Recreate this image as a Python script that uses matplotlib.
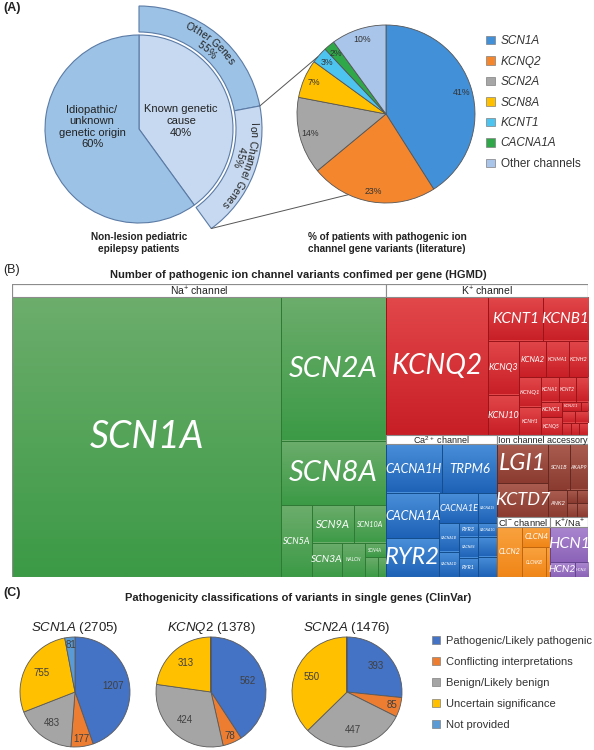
import numpy as np
import matplotlib
matplotlib.use('Agg')
import matplotlib.pyplot as plt
from matplotlib.patches import Rectangle, Patch, ConnectionPatch
from matplotlib.colors import to_rgb

# ---------------- data ----------------
cause_labels = ['Known genetic\ncause', 'Idiopathic/\nunknown\ngenetic origin']
cause_pct = [40, 60]
known_labels = ['Other Genes', 'Ion Channel Genes']
known_pct = [55, 45]

lit_genes = ['SCN1A', 'KCNQ2', 'SCN2A', 'SCN8A', 'KCNT1', 'CACNA1A', 'Other channels']
lit_pct = [41, 23, 14, 7, 3, 2, 10]

na_genes = ['SCN1A', 'SCN2A', 'SCN8A', 'SCN5A', 'SCN9A', 'SCN10A', 'SCN3A', 'NALCN',
            'SCN4A', 'SCN11A', 'SCN7A']
na_counts = [1970, 396, 176, 58, 41, 32, 27, 20, 8, 7, 4]
k_genes = ['KCNQ2', 'KCNT1', 'KCNB1', 'KCNQ3', 'KCNJ10', 'KCNA2', 'KCNMA1', 'KCNH2',
           'KCNQ1', 'KCNH1', 'KCNA1', 'KCNT2', 'KCNC3', 'KCNC1', 'KCNQ5', 'KCNJ11',
           'KCNK9', 'KCND2', 'KCNJ16', 'KCNA5', 'KCNK4', 'KCNS1']
k_counts = [385, 66, 54, 46, 34, 27, 23, 19, 18, 17, 12, 11, 8, 9, 10, 5, 2, 4, 4, 3, 3, 3]
ca_genes = ['CACNA1H', 'TRPM6', 'CACNA1A', 'RYR2', 'CACNA1E', 'CACNA1S', 'CACNA1B',
            'CACNA1D', 'RYR3', 'CACNA1G', 'CACNB4', 'RYR1', 'CACNA1C', 'CACNA2D1']
ca_counts = [73, 72, 64, 55, 31, 15, 15, 13, 7, 7, 11, 10, 10, 10]
acc_genes = ['LGI1', 'KCTD7', 'SCN1B', 'AKAP9', 'ANK2', 'CNTN2', 'FGF12', 'CNTNAP2', 'SCN2B']
acc_counts = [56, 49, 28, 23, 14, 4, 4, 4, 4]
cl_genes = ['CLCN2', 'CLCN4', 'CLCNKB', 'CLCN1']
cl_counts = [38, 17, 21, 4]
hcn_genes = ['HCN1', 'HCN2', 'HCN4']
hcn_counts = [40, 11, 6]

clin_classes = ['Pathogenic/Likely pathogenic', 'Conflicting interpretations',
                'Benign/Likely benign', 'Uncertain significance', 'Not provided']
clin_genes = ['SCN1A', 'KCNQ2', 'SCN2A']
clin_totals = [2705, 1378, 1476]
scn1a_clin = [1207, 177, 483, 755, 81]
kcnq2_clin = [562, 78, 424, 313, 1]
scn2a_clin = [393, 85, 447, 550, 1]

# ---------------- style ----------------
W, H = 594, 750
plt.rcParams['font.family'] = ['Liberation Sans', 'DejaVu Sans']
plt.rcParams['mathtext.fontset'] = 'custom'
plt.rcParams['mathtext.rm'] = 'Liberation Sans'
plt.rcParams['mathtext.it'] = 'Liberation Sans:italic'
plt.rcParams['mathtext.bf'] = 'Liberation Sans:bold'
TXT = '#222222'
LBLFONT = ['Lato', 'Open Sans', 'DejaVu Sans']

fig = plt.figure(figsize=(W / 100, H / 100), dpi=100)
fig.patch.set_facecolor('white')


def px_axes(x0, y0, x1, y1, **kw):
    return fig.add_axes([x0 / W, 1 - y1 / H, (x1 - x0) / W, (y1 - y0) / H], **kw)


def pix_square_axes(cx, cy, half):
    ax = px_axes(cx - half, cy - half, cx + half, cy + half)
    ax.set_xlim(-half, half)
    ax.set_ylim(-half, half)
    ax.axis('off')
    return ax


renderer = fig.canvas.get_renderer()


def curved_text(ax, s, r, theta_c, fs, **kw):
    widths = []
    for ch in s:
        t = ax.text(0, 0, 'n' if ch == ' ' else ch, fontsize=fs, **kw)
        w = t.get_window_extent(renderer=renderer).width
        t.remove()
        widths.append(w * 0.55 if ch == ' ' else w)
    total = sum(widths)
    ang = np.radians(theta_c) - total / 2 / r
    for ch, w in zip(s, widths):
        a = ang + w / 2 / r
        ax.text(r * np.sin(a), r * np.cos(a), ch, rotation=-np.degrees(a),
                rotation_mode='anchor', ha='center', va='center', fontsize=fs, **kw)
        ang += w / r


# ================= Panel A =================
LCX, LCY, LR = 139, 129, 94
RING_IN, RING_OUT = 97, 123
axL = pix_square_axes(LCX, LCY, 130)
light, medium, edge = '#c6d9f0', '#9cc2e5', '#5b7ba6'
axL.pie(cause_pct, radius=LR, startangle=90, counterclock=False,
        colors=[light, medium], wedgeprops=dict(edgecolor=edge, linewidth=0.8))
ring_vals = [cause_pct[0] * p / 100 for p in known_pct] + [cause_pct[1]]
rw, _ = axL.pie(ring_vals, radius=RING_OUT, startangle=90, counterclock=False,
                colors=[medium, light, 'white'],
                wedgeprops=dict(width=RING_OUT - RING_IN, edgecolor=edge, linewidth=0.8))
rw[-1].set_visible(False)
axL.set_xlim(-130, 130)
axL.set_ylim(-130, 130)

axL.text(-47, 2, cause_labels[1] + '\n%d%%' % cause_pct[1], ha='center', va='center',
         fontsize=8, color=TXT, linespacing=1.2)
axL.text(42, 8, cause_labels[0] + '\n%d%%' % cause_pct[0], ha='center', va='center',
         fontsize=8, color=TXT, linespacing=1.2)

# ring labels (curved)
th_b = 360 * ring_vals[0] / sum(ring_vals)
th_e = 360 * (ring_vals[0] + ring_vals[1]) / sum(ring_vals)
curved_text(axL, known_labels[0], 114, th_b / 2, 7.5, color=TXT)
curved_text(axL, '%d%%' % known_pct[0], 104, th_b / 2 + 1, 7.5, color=TXT)
curved_text(axL, known_labels[1], 114, (th_b + th_e) / 2 - 2, 7.5, color=TXT)
curved_text(axL, '%d%%' % known_pct[1], 104, (th_b + th_e) / 2 - 6, 7.5, color=TXT)

# right pie
RCX, RCY, RR = 386, 114, 89
axR = pix_square_axes(RCX, RCY, 96)
lit_colors = ['#4290d8', '#f4862e', '#a6a6a6', '#ffc000', '#4dc3f0', '#2fa84a', '#a9c5ea']
wd, _ = axR.pie(lit_pct, radius=RR, startangle=90, counterclock=False, colors=lit_colors,
                wedgeprops=dict(edgecolor='#555555', linewidth=0.6))
axR.set_xlim(-96, 96)
axR.set_ylim(-96, 96)
for w, p in zip(wd, lit_pct):
    a = np.radians((w.theta1 + w.theta2) / 2)
    d = 0.88 * RR
    axR.text(d * np.cos(a), d * np.sin(a), '%d%%' % p, ha='center', va='center',
             fontsize=6.3, color='#333333')


def ring_pt(theta):
    return (RING_OUT * np.sin(np.radians(theta)), RING_OUT * np.cos(np.radians(theta)))


def rpie_pt(theta):
    return (RR * np.sin(np.radians(theta)), RR * np.cos(np.radians(theta)))


for ta, tb in [(th_b, 310), (th_e, 205)]:
    cp = ConnectionPatch(xyA=ring_pt(ta), coordsA=axL.transData, xyB=rpie_pt(tb),
                         coordsB=axR.transData, color='#555555', lw=0.7)
    fig.add_artist(cp)

legA = fig.legend([Patch(facecolor=c, edgecolor='#808080', lw=0.5) for c in lit_colors],
                  lit_genes, loc='upper left', bbox_to_anchor=(486 / W, 1 - 35 / H),
                  frameon=False, fontsize=8.5, handlelength=0.75, handleheight=0.75,
                  handletextpad=0.5, labelspacing=0.72, borderaxespad=0, borderpad=0)
for t in legA.get_texts()[:-1]:
    t.set_style('italic')
for t in legA.get_texts():
    t.set_color('#333333')

# ================= Panel B: treemap =================
TX0, TY0, TX1, TY1 = 12, 284, 588, 577
axT = px_axes(TX0, TY0, TX1, TY1)
TW, TH = TX1 - TX0, TY1 - TY0

na_tree = ('h', ['SCN1A', ('v', ['SCN2A', 'SCN8A', ('h', ['SCN5A', ('v', [
    ('h', ['SCN9A', 'SCN10A']),
    ('h', ['SCN3A', 'NALCN', ('v', ['SCN4A', ('h', ['SCN11A', 'SCN7A'])])])])])])])
k_tree = ('h', ['KCNQ2', ('v', [('h', ['KCNT1', 'KCNB1']), ('h', [
    ('v', ['KCNQ3', 'KCNJ10']),
    ('v', [('h', ['KCNA2', 'KCNMA1', 'KCNH2']), ('h', [
        ('v', ['KCNQ1', 'KCNH1']),
        ('v', [('h', ['KCNA1', 'KCNT2', 'KCNC3']), ('h', [
            ('v', ['KCNC1', 'KCNQ5']),
            ('v', [('h', ['KCNJ11', 'KCNK9']), ('h', ['KCND2', 'KCNJ16']),
                   ('h', ['KCNA5', 'KCNK4', 'KCNS1'])])])])])])])])])
ca_tree = ('v', [('h', ['CACNA1H', 'TRPM6']), ('h', [
    ('v', ['CACNA1A', 'RYR2']),
    ('v', [('h', ['CACNA1E', 'CACNA1S']), ('h', [
        ('v', ['CACNA1B', 'CACNA1D']),
        ('v', [('h', ['RYR3', 'CACNA1G']),
               ('h', [('v', ['CACNB4', 'RYR1']), ('v', ['CACNA1C', 'CACNA2D1'])])])])])])])
acc_tree = ('h', [('v', ['LGI1', 'KCTD7']), ('v', [('h', ['SCN1B', 'AKAP9']), ('h', [
    'ANK2', ('v', [('h', ['CNTN2', 'FGF12']), ('h', ['CNTNAP2', 'SCN2B'])])])])])
cl_tree = ('h', ['CLCN2', ('v', ['CLCN4', ('h', ['CLCNKB', 'CLCN1'])])])
hcn_tree = ('v', ['HCN1', ('h', ['HCN2', 'HCN4'])])
group_tree = ('h', ['Na', ('v', ['K', ('h', ['Ca', ('v', ['Acc', ('h', ['Cl', 'KNa'])])])])])

groups = {
    'Na': dict(title=r'Na$^{+}$ channel', genes=na_genes, counts=na_counts, tree=na_tree,
               hh=13, fs=7.5, top='#6cad6c', bot='#3c9a46', edge='#2f7a34'),
    'K': dict(title=r'K$^{+}$ channel', genes=k_genes, counts=k_counts, tree=k_tree,
              hh=13, fs=7.5, top='#e2474a', bot='#c81f26', edge='#9a1519'),
    'Ca': dict(title=r'Ca$^{2+}$ channel', genes=ca_genes, counts=ca_counts, tree=ca_tree,
               hh=9, fs=6.5, top='#4a8fd9', bot='#1d62b6', edge='#154e8c'),
    'Acc': dict(title='Ion channel accessory', genes=acc_genes, counts=acc_counts,
                tree=acc_tree, hh=9, fs=6.5, top='#a95c4f', bot='#8b3b30', edge='#642a21'),
    'Cl': dict(title=r'Cl$^{-}$ channel', genes=cl_genes, counts=cl_counts, tree=cl_tree,
               hh=10, fs=6.8, top='#f9a23f', bot='#f08618', edge='#c2660e'),
    'KNa': dict(title=r'K$^{+}$/Na$^{+}$', genes=hcn_genes, counts=hcn_counts, tree=hcn_tree,
                hh=10, fs=6.8, top='#aa87d0', bot='#8c63b8', edge='#664690'),
}

label_fs = {
    'SCN1A': 27, 'SCN2A': 21, 'SCN8A': 21, 'SCN5A': 6.5, 'SCN9A': 8, 'SCN10A': 5.2,
    'SCN3A': 7.5, 'NALCN': 3.5, 'SCN4A': 3.3,
    'KCNQ2': 20, 'KCNT1': 11, 'KCNB1': 11, 'KCNQ3': 6.5, 'KCNJ10': 6.5, 'KCNA2': 5.5,
    'KCNMA1': 3.5, 'KCNH2': 4, 'KCNQ1': 4.5, 'KCNA1': 3.7, 'KCNT2': 3.5, 'KCNH1': 3.7,
    'KCNC1': 4.3, 'KCNQ5': 3.7, 'KCNJ11': 3,
    'CACNA1H': 9, 'TRPM6': 9.5, 'CACNA1A': 9, 'RYR2': 17, 'CACNA1E': 6.5, 'CACNA1S': 2.5,
    'RYR3': 4, 'CACNA1G': 2.5, 'CACNA1B': 2.6, 'CACNB4': 2.6, 'RYR1': 4, 'CACNA1D': 2.6,
    'LGI1': 17, 'KCTD7': 13, 'SCN1B': 4, 'AKAP9': 4, 'ANK2': 4.2,
    'CLCN2': 5.2, 'CLCN4': 5.8, 'CLCNKB': 3.3, 'HCN1': 11.5, 'HCN2': 7.5, 'HCN4': 3,
}


def leaves(node):
    if isinstance(node, str):
        return [node]
    return [l for c in node[1] for l in leaves(c)]


def layout(node, x, y, w, h, val, out):
    if isinstance(node, str):
        out[node] = (x, y, w, h)
        return
    d, children = node
    tot = sum(val[l] for l in leaves(node))
    pos = x if d == 'h' else y
    for c in children:
        f = sum(val[l] for l in leaves(c)) / tot
        if d == 'h':
            layout(c, pos, y, w * f, h, val, out)
            pos += w * f
        else:
            layout(c, x, pos, w, h * f, val, out)
            pos += h * f


def grad(top, bot, n=32):
    t = np.linspace(0, 1, n)[:, None]
    c = (1 - t) * np.array(to_rgb(top)) + t * np.array(to_rgb(bot))
    return c[:, None, :]


gvals = {g: sum(d['counts']) for g, d in groups.items()}
grects = {}
layout(group_tree, 0, 0, TW, TH, gvals, grects)
for g, d in groups.items():
    x, y, w, h = grects[g]
    hh = d['hh']
    axT.add_patch(Rectangle((x, y), w, hh, facecolor='white', edgecolor='#8c8c8c',
                            lw=0.8, zorder=4))
    axT.text(x + w / 2, y + hh / 2 + 0.5, d['title'], ha='center', va='center',
             fontsize=d['fs'], color=TXT, zorder=5)
    vals = dict(zip(d['genes'], d['counts']))
    cells = {}
    layout(d['tree'], x, y + hh, w, h - hh, vals, cells)
    img = grad(d['top'], d['bot'])
    for gene, (cx, cy, cw, ch) in cells.items():
        axT.imshow(img, extent=[cx, cx + cw, cy + ch, cy], origin='upper', aspect='auto',
                   interpolation='bilinear', zorder=1)
        axT.add_patch(Rectangle((cx, cy), cw, ch, facecolor='none', edgecolor=d['edge'],
                                lw=0.7, zorder=2))
        if gene in label_fs:
            axT.text(cx + cw / 2, cy + ch / 2, gene, ha='center', va='center',
                     fontsize=label_fs[gene], style='italic', color='white',
                     family=LBLFONT, zorder=3)
axT.add_patch(Rectangle((0, 0), TW, TH, facecolor='none', edgecolor='#8c8c8c', lw=0.8,
                        zorder=6))
axT.set_xlim(0, TW)
axT.set_ylim(TH, 0)
axT.axis('off')

# ================= Panel C =================
clin_colors = ['#4472c4', '#ed7d31', '#a5a5a5', '#ffc000', '#5b9bd5']
clin_data = [scn1a_clin, kcnq2_clin, scn2a_clin]
PCX = [75, 211, 347]
PCY, PR = 692, 55
for cx, gene, tot, vals in zip(PCX, clin_genes, clin_totals, clin_data):
    ax = pix_square_axes(cx, PCY, 62)
    wd, _ = ax.pie(vals, radius=PR, startangle=90, counterclock=False, colors=clin_colors,
                   wedgeprops=dict(edgecolor='#595959', linewidth=0.6))
    ax.set_xlim(-62, 62)
    ax.set_ylim(-62, 62)
    s = sum(vals)
    for w, v in zip(wd, vals):
        if v / s < 0.01:
            continue
        a = np.radians((w.theta1 + w.theta2) / 2)
        dd = (0.7 if v / s > 0.1 else 0.86) * PR
        ax.text(dd * np.cos(a), dd * np.sin(a), str(v), ha='center', va='center',
                fontsize=7, color='#404040')
    ax.text(0, 64, r'$\mathit{%s}$ (%d)' % (gene, tot), ha='center', va='center',
            fontsize=9.5, color=TXT, clip_on=False)

legC = fig.legend([Patch(facecolor=c, edgecolor='#808080', lw=0.5) for c in clin_colors],
                  clin_classes, loc='upper left', bbox_to_anchor=(432 / W, 1 - 636 / H),
                  frameon=False, fontsize=8, handlelength=0.75, handleheight=0.75,
                  handletextpad=0.5, labelspacing=0.98, borderaxespad=0, borderpad=0)
for t in legC.get_texts():
    t.set_color('#333333')

# ================= overlay texts =================
axO = px_axes(0, 0, W, H)
axO.set_xlim(0, W)
axO.set_ylim(H, 0)
axO.axis('off')
axO.text(3, 8, '(A)', fontsize=9, fontweight='bold', va='center', color=TXT)
axO.text(3, 270, '(B)', fontsize=9, va='center', color=TXT)
axO.text(3, 593, '(C)', fontsize=9, fontweight='bold', va='center', color=TXT)
axO.text(139, 243, 'Non-lesion pediatric\nepilepsy patients', ha='center', va='center',
         fontsize=7.2, fontweight='bold', color=TXT, linespacing=1.3)
axO.text(387, 243, '% of patients with pathogenic ion\nchannel gene variants (literature)',
         ha='center', va='center', fontsize=7.2, fontweight='bold', color=TXT,
         linespacing=1.3)
axO.text(298, 275, 'Number of pathogenic ion channel variants confimed per gene (HGMD)',
         ha='center', va='center', fontsize=8, fontweight='bold', color=TXT)
axO.text(298, 598, 'Pathogenicity classifications of variants in single genes (ClinVar)',
         ha='center', va='center', fontsize=8, fontweight='bold', color=TXT)

fig.savefig('out.png', dpi=100, facecolor='white')
